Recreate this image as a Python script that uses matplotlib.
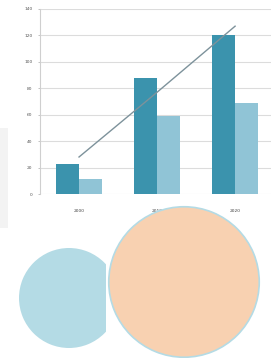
import matplotlib.pyplot as plt
from matplotlib.patches import Rectangle

# bar chart data
years = ["2000", "2010", "2020"]
dark_values = [23, 88, 120]
light_values = [11, 59, 69]
trend_values = [28, 77, 127]
y_ticks = [0, 20, 40, 60, 80, 100, 120, 140]

# circles below
blue_share = [1]
peach_share = [1]

DARK = "#3b93ad"
LIGHT = "#90c4d6"
BLUE = "#b4dbe5"
PEACH = "#f8d1b1"

W, H = 271, 358
fig = plt.figure(figsize=(W / 100, H / 100), dpi=100)

# faint shadow on the left edge
fig.patches.append(Rectangle((0, 130 / H), 8 / W, 100 / H, transform=fig.transFigure,
                             facecolor="#e6e6e6", edgecolor="none", alpha=0.45))

ax = fig.add_axes([40 / W, 1 - 194 / H, (W - 40) / W, (194 - 9) / H])
x = list(range(len(years)))
bw = 0.29
ax.bar([i - bw / 2 for i in x], dark_values, width=bw, color=DARK, zorder=2)
ax.bar([i + bw / 2 for i in x], light_values, width=bw, color=LIGHT, zorder=2)
ax.plot(x, trend_values, color="#7d929b", lw=1.0, zorder=3)

ax.set_xlim(-0.5, 2.46)
ax.set_ylim(0, 140)
ax.set_yticks(y_ticks)
ax.set_yticklabels([str(v) for v in y_ticks], fontsize=3.2, color="#555555")
ax.set_xticks(x)
ax.set_xticklabels(years, fontsize=3.2, color="#444444")
ax.tick_params(axis="x", length=0, pad=11)
ax.tick_params(axis="y", length=1.5, width=0.5, color="#aaaaaa", pad=4)
ax.grid(axis="y", color="#dcdcdc", lw=0.8, zorder=0)
for side in ["top", "right", "bottom"]:
    ax.spines[side].set_visible(False)
ax.spines["left"].set_color("#cfcfcf")
ax.spines["left"].set_linewidth(0.8)

# blue shape, cut on its right side
ax_b = fig.add_axes([19 / W, 10 / H, 87 / W, 100 / H])
wedges, _ = ax_b.pie(blue_share, colors=[BLUE], radius=1, startangle=90)
ax_b.set_aspect("auto")
ax_b.set_xlim(-1, 0.74)
ax_b.set_ylim(-1, 1)
ax_b.axis("off")
for w in wedges:
    w.set_clip_on(True)
    w.set_clip_box(ax_b.bbox)

# big peach circle
ax_p = fig.add_axes([108 / W, 0, 152 / W, 152 / H])
ax_p.pie(peach_share, colors=[PEACH], radius=1, startangle=90,
         wedgeprops=dict(edgecolor=BLUE, linewidth=1.2))
ax_p.set_aspect("auto")
ax_p.set_xlim(-1.01, 1.01)
ax_p.set_ylim(-1.01, 1.01)
ax_p.axis("off")

fig.savefig("out.png", dpi=100)
